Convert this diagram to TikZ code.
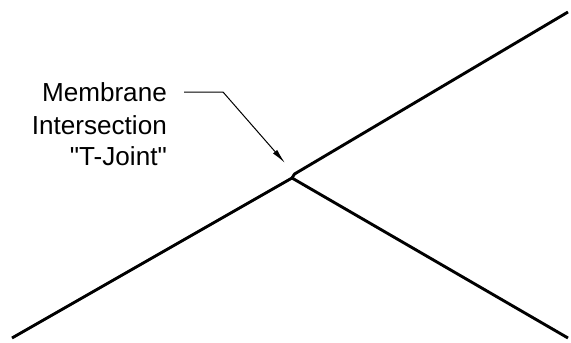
\documentclass[tikz,border=0pt]{standalone}
\usepackage{fontspec}
\newfontfamily\labelfont{Liberation Sans}
\usetikzlibrary{arrows.meta,positioning}

\begin{document}
\begin{tikzpicture}[x=1pt,y=-1pt,
  membrane/.style={line width=2.9pt},
  leader/.style={line width=1pt,-{Latex[length=15pt,width=5.5pt]}},
  callout/.style={anchor=base east,inner sep=0pt,font=\labelfont\fontsize{26.1}{32}\selectfont}]
  \useasboundingbox (0,0) rectangle (571,343);

  \coordinate (sw) at (12,338);
  \coordinate (joint) at (292,178);
  \coordinate (jtop) at (294.5,174);
  \coordinate (ne) at (568,12);
  \coordinate (se) at (568,338);

  \node[callout] (mem) at (167,101.5) {Membrane};
  \node[callout] (inter) at (167,134) {Intersection};
  \node[callout] (tj) at (167,165.5) {"T-Joint"};

  \coordinate (ldr) at (184,92);
  \coordinate (kink) at (223,92);
  \coordinate (tip) at (285,163);

  \draw[membrane] (sw) -- (joint) -- (se);
  \draw[membrane] (joint) -- (jtop) -- (ne);
  \draw[leader] (ldr) -- (kink) -- (tip);
\end{tikzpicture}
\end{document}
